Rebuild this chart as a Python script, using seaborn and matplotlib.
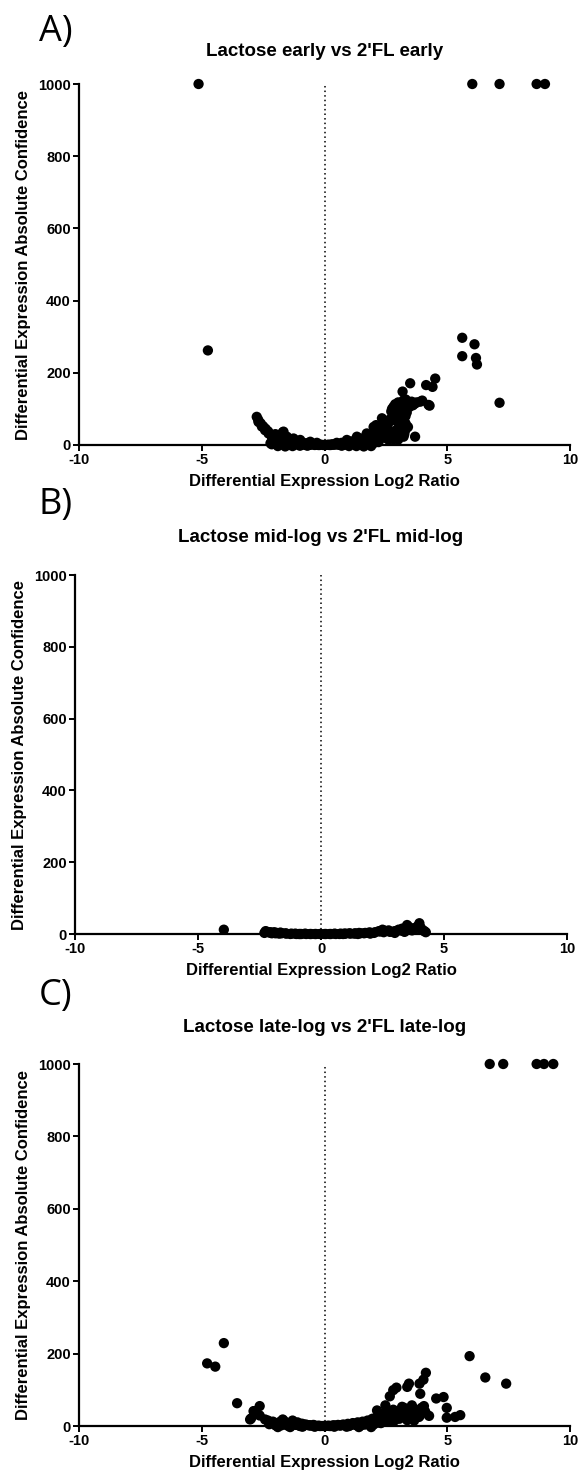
import numpy as np
import pandas as pd
import seaborn as sns
import matplotlib.pyplot as plt

# Panel A: Lactose early vs 2'FL early
a_x = [-5.13, 6.02, 7.13, 8.64, 8.98,
       -4.75, 5.61, 5.61, 6.11, 6.17, 6.21, 7.13,
       4.51, 4.14, 4.40, 3.49, 3.18, 3.98, 4.28, 3.31, 3.69, 3.35, 2.88, 3.00,
       2.72, 3.20, 3.20, 3.69, 2.80, 2.34, 2.60, 3.30, 3.30, 3.35, 3.10, 2.90,
       2.50, 2.20, 2.00, 3.50, 3.60, 2.75, 2.10, 2.40, 2.81, 3.08, 3.22, 3.29,
       3.22, 3.29, 3.22, 3.90, 4.24, 2.74, 2.06, 2.27,
       -2.76, -2.69, -2.55, -2.42, -2.28, -2.15, -1.67, -1.80, -1.94, -1.53,
       -1.26, -0.99, -0.58, -0.31,
       -2.70, -2.60, -2.50, -2.40, -2.30, -2.20, -2.10, -2.00, -1.90, -1.80,
       -1.70, -1.60, -1.50, -1.40, -1.20, -1.00, -0.80, -0.60, -0.40, -0.20,
       0.00, 0.20, 0.40, 0.60, 0.80, 1.00, 1.20, 1.40, 1.60, 1.80, 2.00, 2.20,
       -2.20, -2.00, -1.80, -1.60, -1.40, -1.20, -1.00, -0.80, -0.50, 0.50,
       0.80, 1.00, 1.30, 1.50, 1.70, 1.90, 2.10, 2.30, 2.00, 1.80, 1.60, 2.20,
       -2.00, -1.90, -1.80, -1.70, -1.60, -1.50, -1.30, -1.10, -0.90, -0.70,
       -0.50, -0.30, 0.30, 0.50, 0.70, 0.90, 1.10, 1.30, 1.50, 1.70, 1.90,
       2.10, 2.40, 2.50, 2.60, 2.70, 1.32, 0.91, 0.50, 1.72,
       -2.15, -2.05, -1.95, -1.85, -1.75, -1.65, -1.55, -1.45, -1.35, -1.25,
       -1.15, -1.05, -0.95, -0.85, -0.75, -0.65, -0.55, -0.45, -0.35, -0.25,
       -0.15, -0.05, 0.05, 0.15, 0.25, 0.35, 0.45, 0.55, 0.65, 0.75, 0.85,
       0.95, 1.05, 1.15, 1.25, 1.35, 1.45, 1.55, 1.65, 1.75, 1.85, 1.95,
       2.05, 2.15,
       2.45, 2.55, 2.65, 2.85, 2.95, 3.05, 3.15, 3.25, 3.40, 3.45, 3.55, 3.75,
       2.30, 2.45, 2.65, 2.90, 3.00, 3.40, 3.30, 3.25,
       -1.90, -1.60, -1.30, -1.00, -0.70, 0.70, 1.00, 1.30, 1.60, 1.90]
a_y = [1000, 1000, 1000, 1000, 1000,
       262, 297, 246, 279, 241, 223, 117,
       184, 166, 161, 171, 148, 123, 109, 126, 115, 113, 113, 118,
       93, 60, 37, 23, 16, 74, 60, 100, 80, 90, 55, 40,
       45, 35, 50, 115, 110, 100, 55, 30, 106, 97, 124, 88,
       69, 41, 23, 120, 111, 74, 41, 51,
       78, 64, 51, 41, 32, 23, 37, 28, 18, 23,
       18, 14, 9, 6,
       70, 60, 52, 45, 38, 30, 25, 20, 14, 10,
       8, 6, 5, 4, 3, 2, 1, 1, 0, 0,
       0, 0, 1, 1, 2, 3, 4, 5, 7, 9, 12, 15,
       5, 3, 2, 2, 1, 6, 5, 4, 3, 3,
       5, 7, 9, 12, 15, 18, 22, 28, 5, 3, 2, 8,
       30, 25, 20, 35, 18, 15, 12, 9, 7, 5,
       4, 2, 2, 4, 6, 8, 10, 14, 18, 22, 28,
       35, 40, 25, 15, 30, 23, 14, 6, 32,
       2, 8, 4, 12, 3, 10, 2, 7, 1, 5,
       2, 3, 1, 2, 1, 0, 1, 2, 1, 0,
       1, 0, 0, 1, 0, 1, 2, 1, 2, 3, 1,
       4, 2, 6, 3, 8, 4, 10, 5, 14, 6, 18,
       8, 20,
       55, 48, 70, 80, 65, 90, 105, 115, 118, 105, 120, 118,
       45, 20, 35, 25, 15, 50, 60, 30,
       -3, -4, -3, -2, -2, -2, -3, -3, -4, -3]

# Panel B: Lactose mid-log vs 2'FL mid-log
b_x = [-3.95,
       -2.30, -2.20, -2.10, -2.00, -1.90, -1.80, -1.60, -1.40, -1.20, -1.00,
       -0.80, -0.60, -0.40, -0.20, 0.00, 0.20, 0.40, 0.60, 0.80, 1.00,
       1.20, 1.40, 1.60, 1.80, 2.00, 2.20, 2.40, 2.60, 2.50, 2.80,
       3.00, 3.20, 3.30, 3.50, 3.60, 3.70, 3.80, 3.90, 4.00, 4.05,
       4.10, 4.20, 4.26, 3.40, 3.00, 2.00, 1.50, -1.70, -0.90, 0.90,
       -2.25, -2.05, -1.85, -1.65, -1.45, -1.25, -1.05, -0.85, -0.65, -0.45,
       -0.25, -0.05, 0.15, 0.35, 0.55, 0.75, 0.95, 1.15, 1.35, 1.55, 1.75,
       1.95, 2.15, 2.35, 2.55, 2.75, 2.95, 3.15, 3.35, 3.55, 3.75, 3.95, 4.15]
b_y = [12,
       3, 6, 4, 2, 5, 3, 2, 1, 1, 0,
       0, 0, 0, 0, 0, 0, 0, 0, 1, 1,
       1, 2, 2, 3, 4, 5, 7, 9, 12, 6,
       8, 10, 15, 25, 18, 10, 14, 20, 30, 18,
       12, 8, 5, 6, 3, 1, 0, 1, 0, 0,
       8, 5, 2, 4, 2, 0, 1, 0, 1, 0,
       0, 0, 0, 0, 1, 0, 1, 2, 1, 3, 2,
       4, 3, 8, 5, 10, 6, 12, 8, 20, 15, 22, 10]

# Panel C: Lactose late-log vs 2'FL late-log
c_x = [6.73, 7.28, 8.64, 8.94, 9.32,
       -4.78, -4.45, -4.10, -3.56, -2.99, -2.86, -2.64, -2.64, -3.03, -2.89,
       -2.42,
       5.91, 6.55, 7.40, 4.13, 4.03, 3.87, 3.44, 3.37, 2.93, 2.80, 2.66, 3.90,
       4.55, 4.85, 4.98, 4.98, 4.26, 5.32, 5.53, 3.82, 3.56, 3.16, 3.37, 2.48,
       2.14, 2.35,
       -2.30, -2.20, -2.00, -1.80, -1.60, -1.40, -1.20, -1.00, -0.80, -0.60,
       -0.40, -0.20, 0.00, 0.20, 0.40, 0.60, 0.80, 1.00, 1.20, 1.40, 1.60,
       1.80, 2.00, 2.20, 2.40, 2.60, -2.00, -1.50, -1.00, 1.00, 1.50, 2.00,
       2.30, 2.50, 2.70, 2.90, 3.10, 3.30, 3.50, 3.70, 3.90, 4.10, 2.80, 3.00,
       3.20, 2.60, 2.40, 2.20, -1.30, -1.70, -1.10, -0.90,
       -2.25, -2.10, -1.95, -1.85, -1.75, -1.65, -1.55, -1.45, -1.35, -1.25,
       -1.15, -1.05, -0.95, -0.85, -0.75, -0.65, -0.55, -0.45, -0.35, -0.25,
       -0.15, -0.05, 0.05, 0.15, 0.25, 0.35, 0.45, 0.55, 0.65, 0.75, 0.85,
       0.95, 1.05, 1.15, 1.25, 1.35, 1.45, 1.55, 1.65, 1.75, 1.85, 1.95,
       2.05, 2.15, 2.25, 2.35, 2.45, 2.55, 2.65, 2.75, 2.85, 2.95, 3.05,
       3.15, 3.25, 3.35, 3.45, 3.55, 3.65, 3.75, 3.85, 3.95, 4.05,
       -1.90, -1.40, -0.90, -0.40, 0.40, 0.90, 1.40, 1.90]
c_y = [1000, 1000, 1000, 1000, 1000,
       173, 164, 229, 63, 21, 41, 55, 29, 18, 41,
       18,
       193, 134, 117, 147, 128, 117, 117, 108, 106, 99, 82, 89,
       76, 80, 50, 23, 28, 25, 30, 43, 57, 53, 16, 57,
       43, 34,
       15, 10, 8, 12, 6, 8, 5, 4, 3, 2,
       1, 0, 0, 0, 1, 2, 3, 4, 6, 8, 10,
       14, 18, 22, 28, 35, 2, 1, 0, 0, 2, 4,
       8, 12, 15, 20, 25, 30, 20, 25, 30, 40, 45, 35,
       45, 20, 15, 10, 15, 18, 10, 6,
       5, 12, 3, 8, 2, 14, 4, 6, 1, 9,
       3, 2, 6, 1, 4, 2, 1, 3, 0, 1,
       0, 0, 0, 1, 0, 2, 1, 3, 1, 4, 2,
       6, 2, 8, 3, 10, 5, 12, 4, 15, 6, 20,
       8, 25, 10, 30, 12, 22, 18, 35, 15, 40, 20,
       28, 50, 22, 35, 45, 15, 38, 25, 50, 55,
       -3, -3, -2, -2, -2, -2, -3, -3]

titles = ["Lactose early vs 2'FL early",
          "Lactose mid-log vs 2'FL mid-log",
          "Lactose late-log vs 2'FL late-log"]
letters = ["A)", "B)", "C)"]
x_ticks = [-10, -5, 0, 5, 10]
y_ticks = [0, 200, 400, 600, 800, 1000]

sns.set_style("ticks")
plt.rcParams['font.family'] = ['Liberation Sans', 'DejaVu Sans']
plt.rcParams.update({"text.color": "black", "axes.labelcolor": "black",
                     "xtick.color": "black", "ytick.color": "black",
                     "axes.edgecolor": "black"})

W, H = 579, 1475
fig = plt.figure(figsize=(W / 100, H / 100), dpi=100)

# axes boxes in pixels: left, right, y of 1000, y of 0
boxes = [(79, 570, 84, 445), (75, 567, 575, 934), (79, 570, 1064, 1426)]
letter_y = [32, 505, 996]
title_y = [52, 537, 1027]

panels = [(a_x, a_y), (b_x, b_y), (c_x, c_y)]
for i, (xs, ys) in enumerate(panels):
    l, r, t, b = boxes[i]
    ax = fig.add_axes([l / W, 1 - b / H, (r - l) / W, (b - t) / H])
    df = pd.DataFrame({"ratio": xs, "conf": ys})
    ax.axvline(0, ymin=0, ymax=1, color="black", lw=1.1,
               linestyle=(0, (1, 2)), zorder=1)
    sns.scatterplot(data=df, x="ratio", y="conf", ax=ax, color="black",
                    s=55, edgecolor="none", linewidth=0, clip_on=False,
                    zorder=3)
    ax.set_xlim(-10, 10)
    ax.set_ylim(0, 1000)
    ax.set_xticks(x_ticks)
    ax.set_yticks(y_ticks)
    ax.set_xticklabels([str(v) for v in x_ticks], fontweight="bold",
                       fontsize=10.5)
    ax.set_yticklabels([str(v) for v in y_ticks], fontweight="bold",
                       fontsize=10.5)
    sns.despine(ax=ax)
    for sp in ("left", "bottom"):
        ax.spines[sp].set_linewidth(1.6)
        ax.spines[sp].set_color("black")
    ax.tick_params(width=1.4, length=4, pad=2, direction="out",
                   colors="black")
    ax.set_xlabel("Differential Expression Log2 Ratio", fontweight="bold",
                  fontsize=12, labelpad=5)
    ax.set_ylabel("Differential Expression Absolute Confidence",
                  fontweight="bold", fontsize=12, labelpad=5)
    fig.text((l + r) / 2 / W, 1 - title_y[i] / H, titles[i],
             ha="center", va="center", fontsize=13.5, fontweight="bold")
    fig.text(56 / W, 1 - letter_y[i] / H, letters[i], ha="center",
             va="center", fontsize=26, family=["Open Sans", "DejaVu Sans"])

fig.savefig("out.png", dpi=100)
